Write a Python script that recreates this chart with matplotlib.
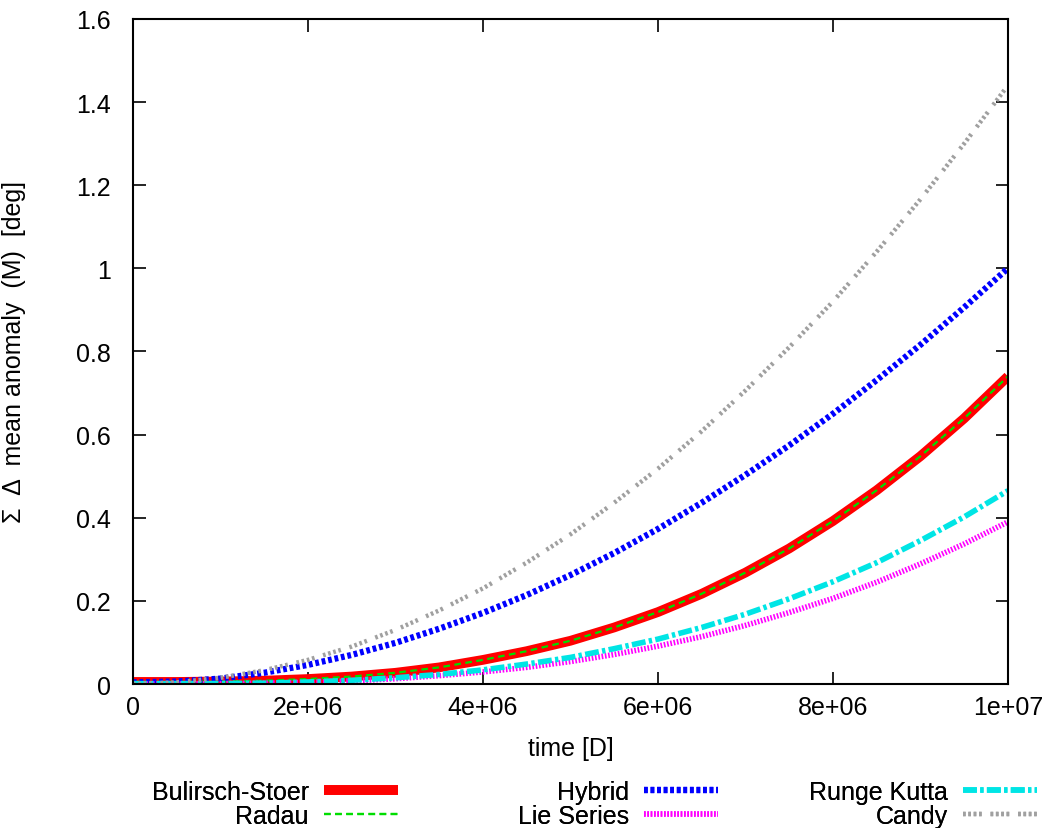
import matplotlib
matplotlib.use("Agg")
import matplotlib.pyplot as plt

plt.rcParams['font.family'] = ['Liberation Sans', 'DejaVu Sans']

# time in days
time_d = [0, 5e5, 1e6, 1.5e6, 2e6, 2.5e6, 3e6, 3.5e6, 4e6, 4.5e6, 5e6,
          5.5e6, 6e6, 6.5e6, 7e6, 7.5e6, 8e6, 8.5e6, 9e6, 9.5e6, 1e7]

bulirsch_stoer = [0.005, 0.005, 0.006, 0.008, 0.012, 0.018, 0.027, 0.040, 0.058, 0.079, 0.104,
                  0.136, 0.173, 0.217, 0.268, 0.326, 0.392, 0.466, 0.548, 0.639, 0.740]
radau          = [0.005, 0.005, 0.006, 0.008, 0.012, 0.018, 0.027, 0.040, 0.058, 0.079, 0.104,
                  0.136, 0.173, 0.217, 0.268, 0.326, 0.392, 0.466, 0.548, 0.639, 0.740]
hybrid         = [0.004, 0.006, 0.013, 0.027, 0.046, 0.070, 0.099, 0.133, 0.171, 0.214, 0.262,
                  0.315, 0.373, 0.436, 0.503, 0.574, 0.650, 0.731, 0.816, 0.906, 1.000]
lie_series     = [0.000, 0.000, 0.001, 0.002, 0.004, 0.0075, 0.0126, 0.020, 0.029, 0.040, 0.054,
                   0.071, 0.091, 0.114, 0.141, 0.172, 0.206, 0.245, 0.289, 0.337, 0.390]
runge_kutta    = [0.001, 0.001, 0.001, 0.002, 0.005, 0.009, 0.015, 0.023, 0.034, 0.048, 0.064,
                  0.085, 0.108, 0.136, 0.168, 0.205, 0.246, 0.292, 0.345, 0.402, 0.465]
candy          = [0.000, 0.004, 0.015, 0.033, 0.058, 0.090, 0.130, 0.177, 0.230, 0.292, 0.360,
                  0.436, 0.518, 0.608, 0.706, 0.810, 0.920, 1.040, 1.166, 1.300, 1.440]

xticks = [0, 2e6, 4e6, 6e6, 8e6, 1e7]
xtick_labels = ["0", "2e+06", "4e+06", "6e+06", "8e+06", "1e+07"]
yticks = [0, 0.2, 0.4, 0.6, 0.8, 1.0, 1.2, 1.4, 1.6]
ytick_labels = ["0", "0.2", "0.4", "0.6", "0.8", "1", "1.2", "1.4", "1.6"]

FS = 18

fig = plt.figure(figsize=(10.51, 8.29), dpi=100)
ax = fig.add_axes([0.1265, 0.1737, 0.8325, 0.8023])

l_bs, = ax.plot(time_d, bulirsch_stoer, color='#ff0000', lw=7, solid_capstyle='butt', label='Bulirsch-Stoer')
l_ra, = ax.plot(time_d, radau, color='#00dd00', lw=1.6, linestyle=(0, (3, 2)), label='Radau')
l_hy, = ax.plot(time_d, hybrid, color='#0000ff', lw=4.5, linestyle=(0, (0.6, 0.45)), label='Hybrid')
l_li, = ax.plot(time_d, lie_series, color='#ff00ff', lw=4, linestyle=(0, (0.3, 0.3)), label='Lie Series')
l_rk, = ax.plot(time_d, runge_kutta, color='#00e5e5', lw=4, linestyle=(0, (2.5, 0.6, 0.6, 0.6)), label='Runge Kutta')
l_ca, = ax.plot(time_d, candy, color='#a0a0a0', lw=3.2, linestyle=(0, (0.6, 0.6, 0.6, 0.6, 0.6, 0.6, 0.6, 2.0)), label='Candy')

ax.set_xlim(0, 1e7)
ax.set_ylim(0, 1.6)
ax.set_xticks(xticks)
ax.set_xticklabels(xtick_labels)
ax.set_yticks(yticks)
ax.set_yticklabels(ytick_labels)
ax.tick_params(direction='in', length=9, width=1.2, top=True, right=True, labelsize=FS)
ax.tick_params(axis='x', pad=8)
ax.tick_params(axis='y', pad=16)
for s in ax.spines.values():
    s.set_linewidth(1.5)

ax.set_xlabel('time [D]', fontsize=FS, labelpad=12)
ax.set_ylabel('Σ  Δ  mean anomaly  (M)  [deg]', fontsize=FS, labelpad=36)

groups = [([l_bs, l_ra], 396), ([l_hy, l_li], 716), ([l_rk, l_ca], 1035)]
for hs, xr in groups:
    leg = fig.legend(handles=hs, loc='lower right', bbox_to_anchor=(xr / 1051 + 0.004, -0.003),
                     markerfirst=False, frameon=False, fontsize=FS, handlelength=2.95,
                     labelspacing=0.0, handletextpad=0.6, borderpad=0.1, borderaxespad=0.0)
    fig.add_artist(leg)

fig.savefig('out.png', dpi=100)
